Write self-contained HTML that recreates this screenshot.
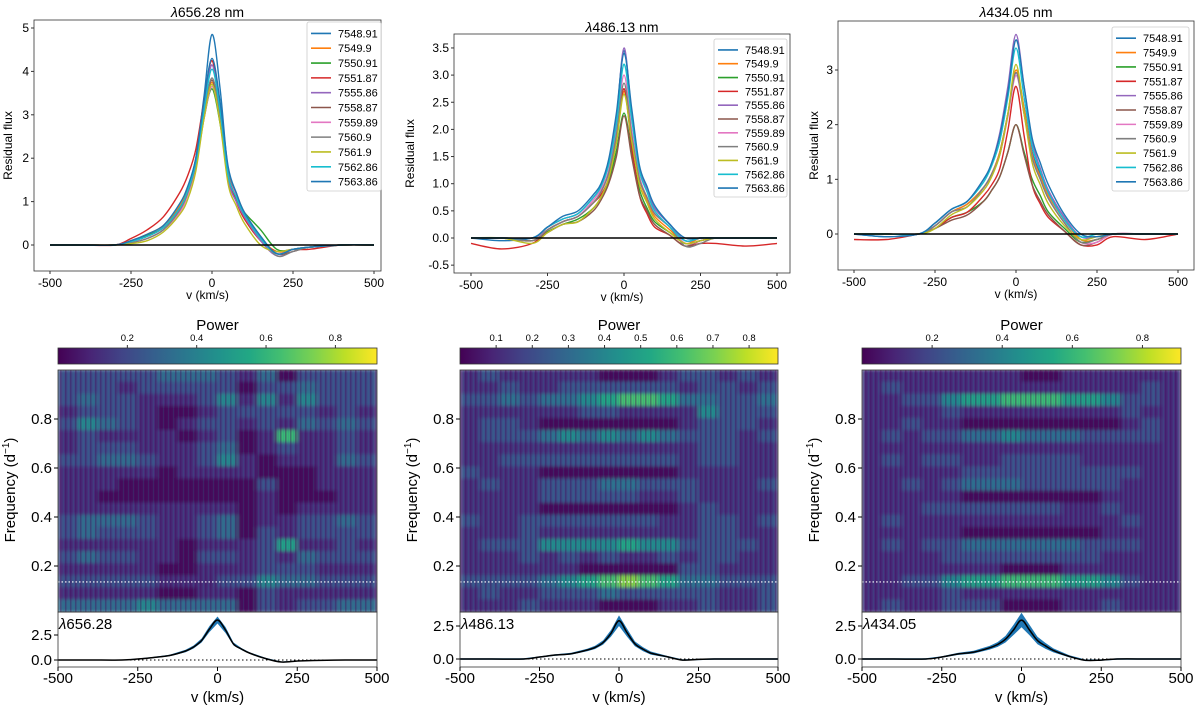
<!DOCTYPE html>
<html><head><meta charset="utf-8">
<style>
html,body{margin:0;padding:0;background:#fff;}
svg{display:block;font-family:"Liberation Sans","DejaVu Sans",sans-serif;}
</style></head>
<body>
<svg id="fig" width="1200" height="710" viewBox="0 0 1200 710" xmlns="http://www.w3.org/2000/svg">
<defs>
<linearGradient id="vir" x1="0" x2="1" y1="0" y2="0">
<stop offset="0" stop-color="#440154"/><stop offset="0.1" stop-color="#482475"/><stop offset="0.2" stop-color="#414487"/><stop offset="0.3" stop-color="#355f8d"/><stop offset="0.4" stop-color="#2a788e"/><stop offset="0.5" stop-color="#21918c"/><stop offset="0.6" stop-color="#22a884"/><stop offset="0.7" stop-color="#44bf70"/><stop offset="0.8" stop-color="#7ad151"/><stop offset="0.9" stop-color="#bddf26"/><stop offset="1" stop-color="#fde725"/>
</linearGradient>
<filter id="soft" x="0" y="0" width="1" height="1"><feGaussianBlur stdDeviation="2.5 1.5"/></filter>
<pattern id="stripes" width="5" height="7" patternUnits="userSpaceOnUse">
<rect x="0" y="0" width="1.5" height="7" fill="#440154" opacity="0.35"/>
<rect x="3" y="0" width="1" height="7" fill="#2a788e" opacity="0.2"/>
</pattern>
</defs>
</svg>
<script>
// ---------- data ----------
const velocities = [-500,-400,-300,-250,-200,-150,-100,-75,-50,-25,0,25,50,75,100,150,200,250,300,400,500];
const epochs = ["7548.91","7549.9","7550.91","7551.87","7555.86","7558.87","7559.89","7560.9","7561.9","7562.86","7563.86"];
const seriesColors = ["#1f77b4","#ff7f0e","#2ca02c","#d62728","#9467bd","#8c564b","#e377c2","#7f7f7f","#bcbd22","#17becf","#1f77b4"];
const titles = ["656.28 nm","486.13 nm","434.05 nm"];
const lineLabels = ["656.28","486.13","434.05"];

const halphaFlux = [
[0,0,0,0.08,0.22,0.4,0.85,1.3,2.0,3.4,4.85,3.6,1.7,1.15,0.7,0.2,-0.2,-0.1,-0.05,0,0],
[0,0,0,0.1,0.25,0.45,0.9,1.3,1.9,3.0,3.75,2.9,1.6,1.1,0.7,0.15,-0.15,-0.1,-0.05,0,0],
[0,0,0,0.08,0.22,0.4,0.85,1.2,1.8,2.9,3.6,2.8,1.6,1.05,0.75,0.35,-0.1,-0.1,-0.05,0,0],
[0,0,0,0.15,0.35,0.65,1.2,1.6,2.2,3.3,4.25,3.1,1.6,1.0,0.6,0.1,-0.15,-0.1,-0.1,0,0],
[0,0,0,0.08,0.2,0.4,0.85,1.25,1.9,3.1,4.15,3.0,1.5,1.0,0.65,0.1,-0.25,-0.15,-0.05,0,0],
[0,0,0,0.08,0.2,0.4,0.85,1.25,1.9,3.0,3.8,2.9,1.6,1.1,0.7,0.15,-0.2,-0.15,-0.05,0,0],
[0,0,0,0.05,0.15,0.35,0.75,1.15,1.8,2.9,3.65,2.9,1.7,1.15,0.75,0.15,-0.2,-0.1,-0.05,0,0],
[0,0,0,0.05,0.15,0.35,0.8,1.2,1.85,3.0,3.85,3.0,1.7,1.2,0.75,0.2,-0.25,-0.15,-0.05,0,0],
[0,0,0,0.03,0.1,0.3,0.7,1.05,1.7,2.9,3.7,2.8,1.4,0.9,0.5,0,-0.15,-0.1,-0.05,0,0],
[0,0,0,0.08,0.2,0.4,0.85,1.25,1.9,3.1,4.05,3.1,1.6,1.1,0.7,0.15,-0.2,-0.1,-0.05,0,0],
[0,0,0,0.1,0.25,0.45,0.95,1.35,2.0,3.3,4.3,3.3,1.8,1.2,0.75,0.2,-0.2,-0.1,-0.05,0,0]];
const hbetaFlux = [
[0,-0.05,0,0.2,0.35,0.45,0.75,0.95,1.4,2.2,3.45,2.3,1.3,0.9,0.55,0.25,-0.05,0,0,0,0],
[0,0,-0.05,0.15,0.3,0.4,0.65,0.85,1.2,1.8,2.7,1.9,1.1,0.7,0.4,0.15,-0.1,0,0,0,0],
[0,0,0,0.12,0.25,0.35,0.55,0.75,1.05,1.6,2.3,1.6,0.9,0.55,0.3,0.1,-0.1,-0.05,0,0,0],
[-0.1,-0.2,-0.1,0.15,0.3,0.4,0.65,0.8,1.1,1.8,2.75,1.7,0.8,0.45,0.2,0.05,-0.15,-0.1,-0.1,-0.15,-0.1],
[0,0,0,0.2,0.35,0.45,0.75,0.95,1.4,2.2,3.5,2.3,1.3,0.9,0.55,0.25,-0.05,0,0,0,0],
[0,0,-0.05,0.1,0.25,0.3,0.5,0.7,1.0,1.5,2.25,1.5,0.8,0.5,0.25,0.05,-0.15,-0.05,0,0,0],
[0,0,0,0.15,0.3,0.4,0.7,0.9,1.25,2.0,3.0,2.0,1.15,0.75,0.45,0.2,-0.1,-0.05,0,0,0],
[0,0,-0.05,0.15,0.3,0.4,0.65,0.85,1.2,1.9,2.85,1.9,1.1,0.75,0.45,0.2,-0.15,-0.1,0,0,0],
[0,0,-0.1,0.1,0.25,0.3,0.55,0.75,1.1,1.75,2.65,1.8,1.0,0.65,0.35,0.1,-0.1,-0.05,0,0,0],
[0,0,0,0.2,0.35,0.45,0.75,0.95,1.35,2.1,3.2,2.2,1.25,0.85,0.5,0.2,-0.05,0,0,0,0],
[0,0,0,0.2,0.4,0.5,0.8,1.0,1.45,2.3,3.4,2.4,1.35,0.95,0.6,0.25,0,0,0,0,0]];
const hgammaFlux = [
[0,-0.05,0,0.15,0.4,0.55,0.85,1.1,1.5,2.2,2.95,2.3,1.5,1.1,0.75,0.3,-0.1,-0.1,0,0,0],
[0,0,0,0.15,0.4,0.55,0.85,1.1,1.5,2.2,3.0,2.3,1.45,1.05,0.7,0.25,-0.1,-0.1,0,0,0],
[0,0,0,0.1,0.3,0.4,0.6,0.8,1.05,1.5,2.0,1.5,1.0,0.7,0.4,0.1,-0.15,-0.1,0,0,0],
[-0.1,-0.1,0,0.1,0.3,0.4,0.7,0.9,1.2,1.9,2.7,1.8,0.9,0.55,0.3,0.05,-0.2,-0.2,-0.05,-0.1,0],
[0,0,0,0.2,0.45,0.6,1.0,1.3,1.85,2.7,3.65,2.7,1.7,1.2,0.8,0.3,-0.05,-0.05,0,0,0],
[0,0,0,0.1,0.25,0.35,0.6,0.8,1.05,1.5,2.0,1.45,0.9,0.6,0.35,0.05,-0.2,-0.15,0,0,0],
[0,0,0,0.15,0.4,0.5,0.85,1.1,1.45,2.15,2.9,2.2,1.4,1.0,0.65,0.2,-0.15,-0.15,0,0,0],
[0,0,0,0.15,0.4,0.5,0.85,1.1,1.45,2.2,2.95,2.2,1.4,1.0,0.65,0.2,-0.15,-0.1,0,0,0],
[0,0,0,0.1,0.35,0.5,0.8,1.05,1.45,2.2,3.1,2.2,1.3,0.9,0.55,0.15,-0.1,-0.05,0,0,0],
[0,0,0,0.2,0.45,0.6,0.95,1.25,1.7,2.5,3.4,2.5,1.6,1.15,0.75,0.25,-0.05,0,0,0,0],
[0,-0.05,0,0.2,0.45,0.6,1.0,1.3,1.8,2.6,3.55,2.7,1.75,1.3,0.9,0.35,0,-0.05,0,0,0]];

const meanHalpha = [0,0,0,0.1,0.25,0.45,0.9,1.3,1.95,3.1,4.0,3.0,1.6,1.1,0.7,0.15,-0.2,-0.1,-0.05,0,0];
const stdHalpha  = [0.03,0.03,0.03,0.05,0.06,0.08,0.12,0.15,0.2,0.3,0.35,0.3,0.15,0.1,0.08,0.08,0.05,0.04,0.03,0.03,0.03];
const meanHbeta  = [0,0,0,0.15,0.3,0.4,0.68,0.88,1.25,1.95,2.9,2.0,1.15,0.75,0.45,0.18,-0.08,-0.03,0,0,0];
const stdHbeta   = [0.05,0.05,0.05,0.05,0.06,0.07,0.1,0.12,0.16,0.25,0.4,0.3,0.18,0.15,0.12,0.07,0.05,0.05,0.05,0.05,0.05];
const meanHgamma = [0,0,0,0.15,0.38,0.52,0.85,1.1,1.5,2.2,2.95,2.2,1.4,1.0,0.65,0.2,-0.1,-0.08,0,0,0];
const stdHgamma  = [0.05,0.05,0.05,0.06,0.08,0.1,0.14,0.18,0.25,0.38,0.55,0.4,0.28,0.22,0.15,0.08,0.06,0.05,0.05,0.05,0.05];

// periodogram power (x10), rows top (f~1) to bottom (f~0), 16 velocity bins
const powerHalpha = [
[3,3,3,3,3,4,4,4,3,2,4,1,3,3,3,3],[3,3,3,2,3,3,3,3,3,1,3,3,4,3,3,3],
[3,4,3,3,2,2,2,3,5,2,5,2,5,3,3,3],[2,3,3,3,2,1,1,2,3,3,3,3,3,2,3,2],
[3,5,4,3,2,1,2,3,3,2,3,2,4,3,4,3],[2,3,2,2,2,2,1,2,3,1,2,7,2,2,3,2],
[2,3,3,3,2,2,2,3,4,1,2,3,2,2,3,2],[3,3,4,4,3,2,2,3,5,2,1,2,2,2,4,3],
[2,2,2,2,2,1,2,2,2,2,1,1,1,2,2,2],[2,2,2,1,1,1,1,1,1,1,3,1,1,2,2,2],
[2,2,1,1,1,1,1,1,1,1,2,1,1,1,2,2],[2,2,2,2,2,2,2,2,2,1,2,1,2,2,2,2],
[3,4,4,4,3,2,2,3,4,1,2,2,3,3,4,3],[3,4,3,3,3,2,2,3,4,1,3,2,3,3,3,3],
[2,2,2,2,2,2,1,2,2,2,3,6,2,2,3,2],[3,4,3,3,2,2,1,3,3,2,3,2,4,3,3,3],
[2,2,2,2,2,1,1,2,2,2,3,3,3,2,2,2],[3,3,3,3,3,2,2,2,3,3,5,4,4,3,3,3],
[2,2,2,2,2,1,1,2,2,1,3,2,2,2,2,2],[4,4,4,4,5,4,4,4,4,1,3,2,3,3,4,4]];
const powerHbeta = [
[2,3,2,2,2,2,2,1,1,1,2,3,3,2,3,2],[2,2,3,2,2,3,3,3,3,3,3,2,3,3,2,3],
[3,3,4,3,4,4,5,6,7,7,6,4,4,3,3,4],[2,2,2,2,2,2,3,3,2,2,2,2,5,3,3,3],
[2,3,3,2,1,1,1,1,1,1,1,2,3,3,3,2],[2,3,3,3,4,5,4,5,4,5,4,3,3,3,2,3],
[2,2,2,2,2,2,2,2,2,2,2,2,3,3,2,2],[2,2,3,3,3,3,3,3,3,3,3,2,3,3,2,2],
[3,2,2,2,1,1,1,1,1,1,1,2,2,2,2,2],[2,3,2,2,3,3,3,4,4,3,3,3,2,2,2,3],
[2,2,2,2,3,3,3,3,3,2,2,3,2,2,2,2],[2,2,2,2,1,1,1,1,1,1,1,2,3,2,2,2],
[3,2,2,3,3,3,3,3,3,3,2,2,3,3,2,3],[2,2,2,3,2,2,2,2,2,2,2,2,3,3,2,2],
[2,3,3,3,5,5,5,5,6,5,5,3,3,3,3,2],[2,2,2,3,2,3,2,3,2,2,3,2,3,3,2,2],
[2,2,2,2,2,2,1,1,1,1,1,3,3,2,2,2],[3,3,3,3,4,5,6,7,8,7,6,4,4,3,3,3],
[2,3,2,2,3,3,3,4,3,3,3,3,3,2,2,3],[2,2,2,3,2,2,2,1,1,1,2,2,3,2,2,3]];
const powerHgamma = [
[2,2,2,2,2,2,2,2,1,1,2,2,2,2,2,2],[2,3,2,2,2,2,2,2,2,2,2,2,2,2,3,2],
[2,2,3,3,5,6,6,7,7,7,6,6,5,3,3,2],[2,2,2,2,3,2,2,2,2,2,2,2,2,3,2,2],
[2,2,3,2,2,1,1,1,1,1,1,1,1,2,3,2],[2,3,2,3,3,4,4,5,4,4,4,3,3,3,3,2],
[2,2,2,2,2,2,2,2,2,2,2,2,2,2,2,2],[2,3,2,3,3,2,2,3,3,3,3,2,2,2,2,2],
[2,2,2,2,2,3,3,3,3,3,3,3,3,3,2,2],[2,2,3,2,3,4,4,4,3,3,3,3,3,2,2,2],
[2,2,2,2,2,1,1,1,1,1,1,1,2,2,2,2],[2,2,2,3,3,3,3,3,3,3,2,2,3,2,2,2],
[2,3,2,2,2,2,2,2,2,2,2,2,2,3,2,2],[2,2,2,2,2,1,1,1,1,1,1,1,2,2,2,2],
[2,3,2,3,3,4,4,4,4,4,4,3,3,3,2,2],[2,2,2,2,3,3,3,3,3,3,3,3,2,2,2,2],
[2,2,2,2,2,2,2,1,1,1,2,2,2,2,2,2],[2,2,3,3,5,6,6,7,7,7,6,6,5,3,2,2],
[2,2,2,2,3,2,2,2,2,2,2,2,2,2,2,2],[2,3,2,2,3,3,3,1,1,1,2,2,3,2,2,2]];

const topYTicks1 = [0,1,2,3,4,5];
const topYTicks2 = [-0.5,0.0,0.5,1.0,1.5,2.0,2.5,3.0,3.5];
const topYTicks3 = [0,1,2,3];
const xTicks = [-500,-250,0,250,500];
const freqTicks = [0.2,0.4,0.6,0.8];
const cbTicks1 = [0.2,0.4,0.6,0.8];
const cbTicks2 = [0.1,0.2,0.3,0.4,0.5,0.6,0.7,0.8];
const cbTicks3 = [0.2,0.4,0.6,0.8];
const stripTicks = [0.0,2.5];
const markedFreq = 0.135;

// ---------- helpers ----------
const NS = "http://www.w3.org/2000/svg";
const fig = document.getElementById("fig");
function mk(tag, attrs, parent, text){
  const e = document.createElementNS(NS, tag);
  for (const k in attrs) e.setAttribute(k, attrs[k]);
  if (text !== undefined) e.textContent = text;
  (parent || fig).appendChild(e);
  return e;
}
function lin(d0,d1,r0,r1){ return v => r0 + (v-d0)/(d1-d0)*(r1-r0); }
function smoothPath(pts){
  let d = "M"+pts[0][0].toFixed(1)+","+pts[0][1].toFixed(1);
  for (let i=0;i<pts.length-1;i++){
    const p0=pts[Math.max(i-1,0)], p1=pts[i], p2=pts[i+1], p3=pts[Math.min(i+2,pts.length-1)];
    const c1=[p1[0]+(p2[0]-p0[0])/6, p1[1]+(p2[1]-p0[1])/6];
    const c2=[p2[0]-(p3[0]-p1[0])/6, p2[1]-(p3[1]-p1[1])/6];
    d += "C"+c1[0].toFixed(1)+","+c1[1].toFixed(1)+" "+c2[0].toFixed(1)+","+c2[1].toFixed(1)+" "+p2[0].toFixed(1)+","+p2[1].toFixed(1);
  }
  return d;
}
const vir = ["#440154","#482475","#414487","#355f8d","#2a788e","#21918c","#22a884","#44bf70","#7ad151","#bddf26","#fde725"];
function hex(h){return [parseInt(h.slice(1,3),16),parseInt(h.slice(3,5),16),parseInt(h.slice(5,7),16)];}
function viridis(t){
  t=Math.max(0,Math.min(1,t)); const s=t*10, i=Math.min(9,Math.floor(s)), f=s-i;
  const a=hex(vir[i]), b=hex(vir[i+1]);
  return "rgb("+a.map((c,k)=>Math.round(c+(b[k]-c)*f)).join(",")+")";
}

// ---------- top panels ----------
const topPanels = [
  {flux:halphaFlux, box:[34,20,381,271], xr:[50,374], y0:245, yPer:43.4, ticks:topYTicks1, fmt:v=>String(v), title:12, leg:[307,22,74,169], ylx:12},
  {flux:hbetaFlux, box:[454,34,790,273], xr:[471,777], y0:238, yPer:54.3, ticks:topYTicks2, fmt:v=>v.toFixed(1), title:27, leg:[714,39,73,158], ylx:414},
  {flux:hgammaFlux, box:[838,21,1194,270], xr:[854,1178], y0:234, yPer:54.67, ticks:topYTicks3, fmt:v=>String(v), title:12, leg:[1112,27,77,164], ylx:818}
];
topPanels.forEach((p,pi)=>{
  const g = mk("g",{});
  
  
  const [x0,y0,x1,y1]=p.box;
  const X = lin(-500,500,p.xr[0],p.xr[1]);
  const Y = v => p.y0 - v*p.yPer;
  const t = mk("text",{x:(x0+x1)/2,y:p.title+5,"text-anchor":"middle","font-size":14},g);
   
  mk("tspan",{"font-style":"italic"},t,"λ"); mk("tspan",{},t,titles[pi]);
  const clip = mk("clipPath",{id:"clipT"+pi},g); mk("rect",{x:x0,y:y0,width:x1-x0,height:y1-y0},clip);
  const sg = mk("g",{"clip-path":"url(#clipT"+pi+")"},g);
  p.flux.forEach((s,si)=>{
    const path = mk("path",{d:smoothPath(s.map((v,k)=>[X(velocities[k]),Y(v)])),fill:"none",stroke:seriesColors[si],"stroke-width":1.4},sg);
    
    
  });
  const zl = mk("line",{x1:X(-500),x2:X(500),y1:Y(0),y2:Y(0),stroke:"#000","stroke-width":1.5},g);
   
  const fr = mk("rect",{x:x0,y:y0,width:x1-x0,height:y1-y0,fill:"none",stroke:"#333","stroke-width":0.8},g);
   
  p.ticks.forEach(v=>{
    mk("line",{x1:x0-3,x2:x0,y1:Y(v),y2:Y(v),stroke:"#333"},g);
    const tl = mk("text",{x:x0-5,y:Y(v)+4,"text-anchor":"end","font-size":12},g,p.fmt(v));
     
  });
  xTicks.forEach(v=>{
    mk("line",{x1:X(v),x2:X(v),y1:y1,y2:y1+3,stroke:"#333"},g);
    const tl = mk("text",{x:X(v),y:y1+16,"text-anchor":"middle","font-size":12},g,String(v));
     
  });
  const xl = mk("text",{x:(x0+x1)/2,y:y1+28,"text-anchor":"middle","font-size":12},g,"v (km/s)");
   
  const yl = mk("text",{x:p.ylx,y:(y0+y1)/2,"text-anchor":"middle","font-size":12,transform:"rotate(-90 "+p.ylx+" "+((y0+y1)/2)+")"},g,"Residual flux");
   
  const [lx,ly,lw,lh]=p.leg;
  const lg = mk("g",{},g);
   
  mk("rect",{x:lx,y:ly,width:lw,height:lh,fill:"#fff",stroke:"#ccc","stroke-width":0.8,rx:2},lg);
  const rh = (lh-6)/epochs.length;
  epochs.forEach((e,i)=>{
    const yy = ly+4+rh*(i+0.5);
    const en = mk("g",{},lg);
     
    mk("line",{x1:lx+4,x2:lx+24,y1:yy,y2:yy,stroke:seriesColors[i],"stroke-width":1.6},en);
    mk("text",{x:lx+31,y:yy+4,"font-size":11},en,e);
  });
});

// ---------- bottom panels ----------
const bottomPanels = [
  {power:powerHalpha, mean:meanHalpha, std:stdHalpha, x0:58, x1:377, cb:cbTicks1, cbMax:0.92, sy0:660, sPer:10},
  {power:powerHbeta, mean:meanHbeta, std:stdHbeta, x0:460, x1:778, cb:cbTicks2, cbMax:0.88, sy0:659, sPer:13.2},
  {power:powerHgamma, mean:meanHgamma, std:stdHgamma, x0:862, x1:1181, cb:cbTicks3, cbMax:0.91, sy0:659, sPer:13.2}
];
const HM_TOP=370, HM_BOT=612, ST_BOT=667;
bottomPanels.forEach((p,pi)=>{
  const g = mk("g",{});
  
  
  const X = lin(-500,500,p.x0,p.x1);
  const F = f => 615 - f*245;
  const cbt = mk("text",{x:(p.x0+p.x1)/2,y:330,"text-anchor":"middle","font-size":15},g,"Power");
   
  const cb = mk("rect",{x:p.x0,y:348,width:p.x1-p.x0,height:16,fill:"url(#vir)",stroke:"#333","stroke-width":0.8},g);
   
  const C = lin(0,p.cbMax,p.x0,p.x1);
  p.cb.forEach(v=>{
    mk("line",{x1:C(v),x2:C(v),y1:345,y2:348,stroke:"#333"},g);
    const tl = mk("text",{x:C(v),y:341,"text-anchor":"middle","font-size":9.5},g,v.toFixed(1));
     
  });
  const clip = mk("clipPath",{id:"clipH"+pi},g); mk("rect",{x:p.x0,y:HM_TOP,width:p.x1-p.x0,height:HM_BOT-HM_TOP},clip);
  const hg = mk("g",{"clip-path":"url(#clipH"+pi+")"},g);
  const hin = mk("g",{filter:"url(#soft)"},hg);
  const nR = p.power.length, nC = p.power[0].length;
  const fTop = 1.0, fBot = (615-HM_BOT)/245;
  const Fcell = lin(0,nR,fTop,fBot);
  const Vcell = lin(0,nC,-500,500);
  p.power.forEach((row,r)=>row.forEach((val,c)=>{
    const xa=X(Vcell(c)), xb=X(Vcell(c+1)), ya=F(Fcell(r)), yb=F(Fcell(r+1));
    const cell = mk("rect",{x:xa-0.5,y:ya-0.5,width:xb-xa+1,height:yb-ya+1,fill:viridis(((val-0.8)/10)/p.cbMax)},hin);
    
    
  }));
  const tex = mk("rect",{x:p.x0,y:HM_TOP,width:p.x1-p.x0,height:HM_BOT-HM_TOP,fill:"url(#stripes)"},hg);
   
  const dl = mk("line",{x1:p.x0,x2:p.x1,y1:F(markedFreq),y2:F(markedFreq),stroke:"#fff","stroke-width":1.2,"stroke-dasharray":"1.5 2"},g);
   
  mk("rect",{x:p.x0,y:HM_TOP,width:p.x1-p.x0,height:HM_BOT-HM_TOP,fill:"none",stroke:"#333","stroke-width":0.8},g);
  freqTicks.forEach(v=>{
    mk("line",{x1:p.x0-4,x2:p.x0,y1:F(v),y2:F(v),stroke:"#000"},g);
    const tl = mk("text",{x:p.x0-6,y:F(v)+5,"text-anchor":"end","font-size":15},g,v.toFixed(1));
     
  });
  const yx = p.x0-43, yy = 490;
  const yl = mk("text",{x:yx,y:yy,"text-anchor":"middle","font-size":15,transform:"rotate(-90 "+yx+" "+yy+")"},g);
   
  mk("tspan",{},yl,"Frequency (d"); mk("tspan",{dy:-6,"font-size":10},yl,"−1"); mk("tspan",{dy:6},yl,")");
  const S = v => p.sy0 - v*p.sPer;
  const band = velocities.map((v,k)=>[X(v),S(p.mean[k]+p.std[k])]).concat(velocities.map((v,k)=>[X(v),S(p.mean[k]-p.std[k])]).reverse());
  const bp = mk("path",{d:"M"+band.map(q=>q[0].toFixed(1)+","+q[1].toFixed(1)).join("L")+"Z",fill:"#1f77b4"},g);
   
  const mp = mk("path",{d:smoothPath(velocities.map((v,k)=>[X(v),S(p.mean[k])])),fill:"none",stroke:"#000","stroke-width":1.5},g);
   
  mk("line",{x1:p.x0,x2:p.x1,y1:S(0),y2:S(0),stroke:"#000","stroke-width":1,"stroke-dasharray":"1.5 2.5"},g);
  mk("rect",{x:p.x0,y:HM_BOT,width:p.x1-p.x0,height:ST_BOT-HM_BOT,fill:"none",stroke:"#333","stroke-width":0.8},g);
  const lab = mk("text",{x:p.x0+1,y:HM_BOT+17,"font-size":15},g);
   
  mk("tspan",{"font-style":"italic"},lab,"λ"); mk("tspan",{},lab,lineLabels[pi]);
  stripTicks.forEach(v=>{
    mk("line",{x1:p.x0-4,x2:p.x0,y1:S(v),y2:S(v),stroke:"#000"},g);
    const tl = mk("text",{x:p.x0-6,y:S(v)+5,"text-anchor":"end","font-size":15},g,v.toFixed(1));
     
  });
  xTicks.forEach(v=>{
    mk("line",{x1:X(v),x2:X(v),y1:ST_BOT,y2:ST_BOT+4,stroke:"#000"},g);
    const tl = mk("text",{x:X(v),y:ST_BOT+16,"text-anchor":"middle","font-size":15},g,String(v));
     
  });
  const xl = mk("text",{x:(p.x0+p.x1)/2,y:ST_BOT+35,"text-anchor":"middle","font-size":15},g,"v (km/s)");
   
});
</script>
</body></html>
